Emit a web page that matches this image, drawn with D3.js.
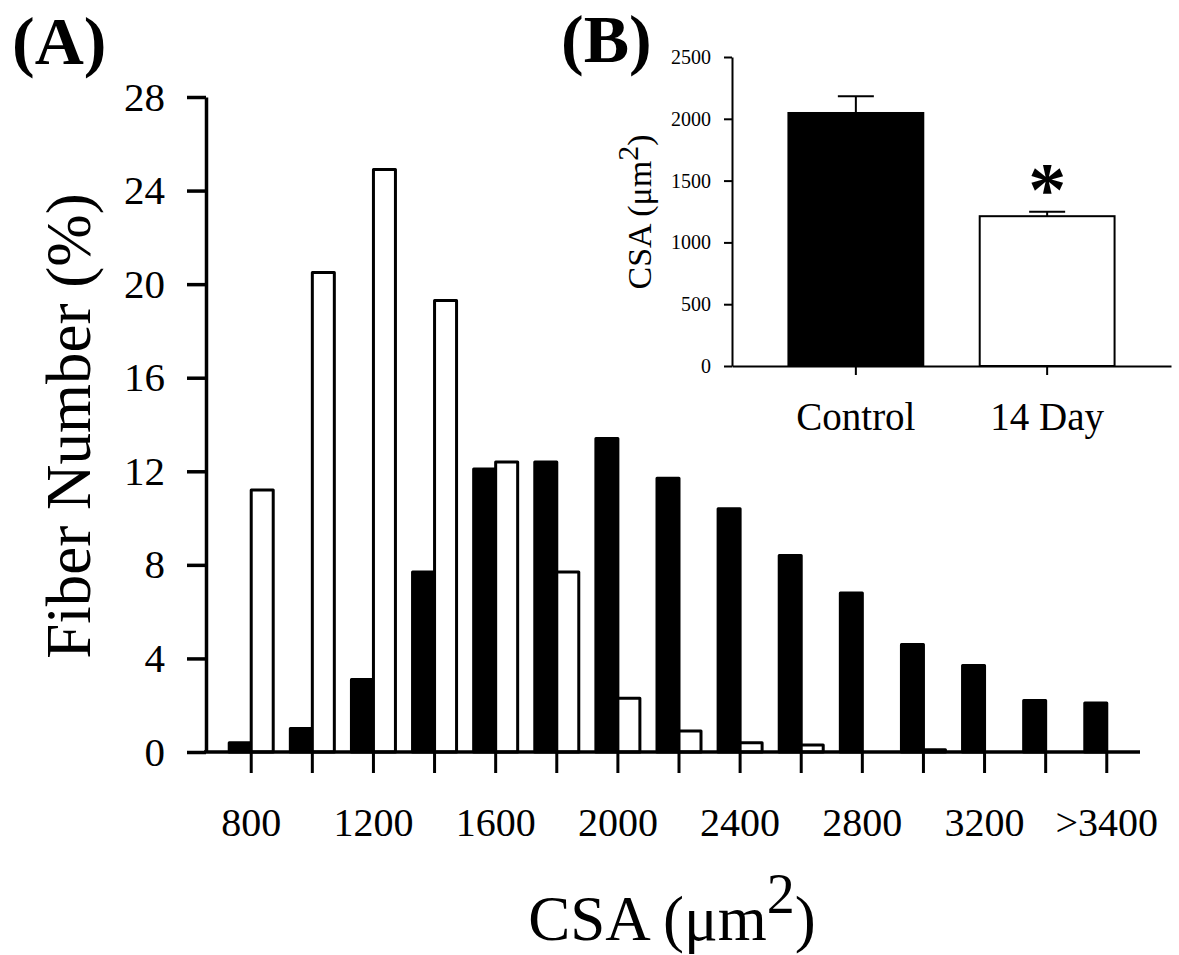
<!DOCTYPE html>
<html>
<head>
<meta charset="utf-8">
<script src="https://cdn.jsdelivr.net/npm/d3@7"></script>
<style>
  body { margin: 0; background: #ffffff; }
  text { font-family: "Liberation Serif", "Times New Roman", serif; fill: #000; }
</style>
</head>
<body>
<div id="chart"></div>
<script>
// fiber size distribution (A) + mean CSA inset (B)

var bins = ["800", "1000", "1200", "1400", "1600", "1800", "2000", "2200", "2400",
            "2600", "2800", "3000", "3200", "3400", ">3400"];
var control = [0.4, 1.0, 3.1, 7.7, 12.1, 12.4, 13.4, 11.7, 10.4, 8.4, 6.8, 4.6, 3.7, 2.2, 2.1];
var day14   = [11.2, 20.5, 24.9, 19.3, 12.4, 7.7, 2.3, 0.9, 0.4, 0.3, 0, 0.1, 0, 0, 0];
var yTicks  = [0, 4, 8, 12, 16, 20, 24, 28];

var groups    = ["Control", "14 Day"];
var meanCSA   = [2047, 1212];
var errCSA    = [135, 35];
var insetTicks = [0, 500, 1000, 1500, 2000, 2500];

var width = 1179,
    height = 955;

var svg = d3.select("#chart")
    .append("svg")
    .attr("width", width)
    .attr("height", height)
    .style("background", "#ffffff");

// ---------- panel A ----------
var x = d3.scaleBand()
    .domain(bins)
    .range([206, 1152])
    .paddingInner(0.28)
    .paddingOuter(0.38);

var y = d3.scaleLinear()
    .domain([0, 28])
    .range([752, 97]);

var half = x.bandwidth() / 2;

var rows = bins.map(function(b, i) { return { bin: b, c: control[i], d: day14[i] }; });

var gA = svg.append("g");

gA.selectAll(".barC")
  .data(rows.filter(function(r) { return r.c > 0; }))
  .enter().append("rect")
    .attr("class", "barC")
    .attr("x", function(r) { return x(r.bin); })
    .attr("y", function(r) { return y(r.c); })
    .attr("width", half)
    .attr("height", function(r) { return y(0) - y(r.c); })
    .attr("fill", "#000")
    .attr("stroke", "#000")
    .attr("stroke-width", 3)
    .attr("stroke-linejoin", "round");

gA.selectAll(".barD")
  .data(rows.filter(function(r) { return r.d > 0; }))
  .enter().append("rect")
    .attr("class", "barD")
    .attr("x", function(r) { return x(r.bin) + half; })
    .attr("y", function(r) { return y(r.d); })
    .attr("width", half)
    .attr("height", function(r) { return y(0) - y(r.d); })
    .attr("fill", "#fff")
    .attr("stroke", "#000")
    .attr("stroke-width", 3)
    .attr("stroke-linejoin", "round");

var yAxis = gA.append("g")
    .attr("transform", "translate(206,0)")
    .call(d3.axisLeft(y).tickValues(yTicks).tickSize(19).tickPadding(22).tickSizeOuter(0));
yAxis.select(".domain").attr("stroke-width", 3.5);
yAxis.selectAll(".tick line").attr("stroke-width", 3.5);
yAxis.selectAll(".tick text").attr("font-size", 41).attr("font-family", null);

var xAxis = gA.append("g")
    .attr("transform", "translate(0,752)")
    .call(d3.axisBottom(x).tickSize(21).tickSizeOuter(0)
      .tickFormat(function(d, i) { return i % 2 === 0 ? d : ""; }));
xAxis.select(".domain").remove();
xAxis.selectAll(".tick line").attr("stroke-width", 3);
xAxis.selectAll(".tick text")
    .attr("font-size", 40)
    .attr("font-family", null)
    .attr("y", 84)
    .attr("dy", null);

gA.append("line")
    .attr("x1", 204).attr("x2", 1140)
    .attr("y1", 752).attr("y2", 752)
    .attr("stroke", "#000")
    .attr("stroke-width", 3.5);

gA.append("text")
    .attr("transform", "translate(90,426) rotate(-90)")
    .attr("text-anchor", "middle")
    .attr("font-size", 63)
    .text("Fiber Number (%)");

var xt = gA.append("text")
    .attr("x", 672)
    .attr("y", 940)
    .attr("text-anchor", "middle")
    .attr("font-size", 63);
xt.append("tspan").text("CSA (\u03bcm");
xt.append("tspan").attr("font-size", 56).attr("dy", -27).text("2");
xt.append("tspan").attr("dy", 27).text(")");

gA.append("text")
    .attr("x", 12).attr("y", 64)
    .attr("font-size", 68)
    .attr("font-weight", "bold")
    .text("(A)");

// ---------- panel B ----------
var xb = d3.scaleBand()
    .domain(groups)
    .range([732, 1171])
    .paddingInner(0.295)
    .paddingOuter(0.295);

var yb = d3.scaleLinear()
    .domain([0, 2500])
    .range([366, 57]);

var gB = svg.append("g");

var brows = groups.map(function(g, i) { return { g: g, m: meanCSA[i], e: errCSA[i] }; });

gB.selectAll(".err")
  .data(brows)
  .enter().append("line")
    .attr("class", "err")
    .attr("x1", function(r) { return xb(r.g) + xb.bandwidth() / 2; })
    .attr("x2", function(r) { return xb(r.g) + xb.bandwidth() / 2; })
    .attr("y1", function(r) { return yb(r.m); })
    .attr("y2", function(r) { return yb(r.m + r.e); })
    .attr("stroke", "#000")
    .attr("stroke-width", 2);

gB.selectAll(".cap")
  .data(brows)
  .enter().append("line")
    .attr("class", "cap")
    .attr("x1", function(r) { return xb(r.g) + xb.bandwidth() / 2 - 18; })
    .attr("x2", function(r) { return xb(r.g) + xb.bandwidth() / 2 + 18; })
    .attr("y1", function(r) { return yb(r.m + r.e); })
    .attr("y2", function(r) { return yb(r.m + r.e); })
    .attr("stroke", "#000")
    .attr("stroke-width", 2);

gB.selectAll(".bbar")
  .data(brows)
  .enter().append("rect")
    .attr("class", "bbar")
    .attr("x", function(r) { return xb(r.g); })
    .attr("y", function(r) { return yb(r.m); })
    .attr("width", xb.bandwidth())
    .attr("height", function(r) { return yb(0) - yb(r.m); })
    .attr("fill", function(r, i) { return i === 0 ? "#000" : "#fff"; })
    .attr("stroke", "#000")
    .attr("stroke-width", 2);

var ybAxis = gB.append("g")
    .attr("transform", "translate(732,0)")
    .call(d3.axisLeft(yb).tickValues(insetTicks).tickFormat(d3.format("d"))
      .tickSize(8).tickPadding(13).tickSizeOuter(0));
ybAxis.select(".domain").attr("stroke-width", 2);
ybAxis.selectAll(".tick line").attr("stroke-width", 2);
ybAxis.selectAll(".tick text").attr("font-size", 20).attr("font-family", null);

var xbAxis = gB.append("g")
    .attr("transform", "translate(0,366)")
    .call(d3.axisBottom(xb).tickSize(9).tickSizeOuter(0));
xbAxis.select(".domain").attr("stroke-width", 2);
xbAxis.selectAll(".tick line").attr("stroke-width", 2);
xbAxis.selectAll(".tick text")
    .attr("font-size", 39)
    .attr("font-family", null)
    .attr("y", 64)
    .attr("dy", null);

var yt = gB.append("text")
    .attr("transform", "translate(651,212) rotate(-90)")
    .attr("text-anchor", "middle")
    .attr("font-size", 34);
yt.append("tspan").text("CSA (\u03bcm");
yt.append("tspan").attr("font-size", 30).attr("dy", -13).text("2");
yt.append("tspan").attr("dy", 13).text(")");

gB.append("text")
    .attr("x", xb("14 Day") + xb.bandwidth() / 2)
    .attr("y", yb(meanCSA[1] + errCSA[1]) + 3)
    .attr("text-anchor", "middle")
    .attr("font-size", 76)
    .attr("font-weight", "bold")
    .text("*");

gB.append("text")
    .attr("x", 561).attr("y", 62)
    .attr("font-size", 68)
    .attr("font-weight", "bold")
    .text("(B)");
</script>
</body>
</html>
